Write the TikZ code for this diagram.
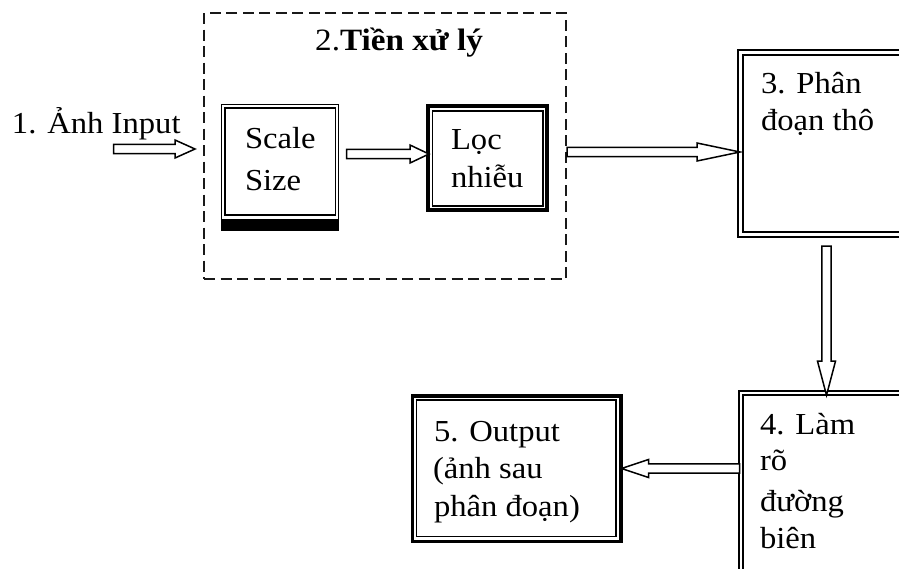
\documentclass[tikz,border=0pt]{standalone}
\usepackage{fontspec}
\setmainfont{Liberation Serif}[FakeStretch=1.07]
\usetikzlibrary{calc}

% hollow block arrow from #1 to the tip #2, head length #3
\newcommand\hollowarrow[3]{%
  \coordinate (ha-h) at ($(#2)!#3!(#1)$);
  \draw[hollow] ($(#1)!4.6pt!90:(#2)$) -- ($(ha-h)!4.6pt!90:(#2)$)
    -- ($(ha-h)!9pt!90:(#2)$) -- (#2) -- ($(ha-h)!9pt!-90:(#2)$)
    -- ($(ha-h)!4.6pt!-90:(#2)$) -- ($(#1)!4.6pt!-90:(#2)$) -- cycle;
}

\tikzset{
  box/.style={rectangle, draw, inner sep=0pt, outer sep=0pt},
  thinframe/.style={line width=1.3pt},
  midframe/.style={line width=2.2pt},
  heavyframe/.style={line width=3.4pt},
  txt/.style={anchor=base west, inner sep=0pt, outer sep=0pt,
    font=\fontsize{30.5}{36}\selectfont},
  hollow/.style={draw, line width=1.5pt, fill=white, line join=miter},
  groupframe/.style={rectangle, draw=black!90, line width=2.4pt,
    dash pattern=on 11pt off 5.5pt, inner sep=0pt}
}

\begin{document}
\begin{tikzpicture}[x=1pt, y=1pt]
\clip (0,0) rectangle (899,-568);
\fill[white] (0,0) rectangle (899,-568);

% pre-processing group
\node[groupframe, minimum width=362pt, minimum height=266pt] (grp) at (385,-146) {};
\node[anchor=base west, inner sep=0pt, font=\fontsize{31}{36}\selectfont] (title) at (315,-50.7) {2.\textbf{Tiền xử lý}};

% Scale Size
\node[box, thinframe, minimum width=116.8pt, minimum height=125.7pt] (sbox) at (280.1,-167.15) {};
\draw[thinframe] ([shift={(3.4,-3.7)}]sbox.north west) rectangle ([shift={(-2.8,15)}]sbox.south east);
\fill ([shift={(-0.7,11)}]sbox.south west) rectangle ([shift={(0.7,-0.8)}]sbox.south east);
\node[txt] (s1) at (245,-148.3) {Scale};
\node[txt] (s2) at (245,-190) {Size};

% noise filter
\node[box, heavyframe, minimum width=119pt, minimum height=104pt] (lbox) at (487.5,-158) {};
\draw[line width=1.5pt] ([shift={(4.5,-5)}]lbox.north west) rectangle ([shift={(-4.2,4.2)}]lbox.south east);
\node[txt] (l1) at (451,-149) {Lọc};
\node[txt] (l2) at (451,-187.3) {nhiễu};

% coarse segmentation
\node[box, midframe, minimum width=222pt, minimum height=187.3pt] (b3) at (849,-143.35) {};
\draw[line width=2pt] ([shift={(4.8,-4.8)}]b3.north west) rectangle ([shift={(-4.8,4.8)}]b3.south east);
\node[txt] (p1) at (761,-93.3) {3. Phân};
\node[txt] (p2) at (761,-130) {đoạn thô};

% edge refinement
\node[box, midframe, minimum width=221.3pt, minimum height=249.3pt] (b4) at (849.35,-515.35) {};
\draw[line width=2pt] ([shift={(4.2,-4)}]b4.north west) rectangle ([shift={(-4.2,4)}]b4.south east);
\node[txt] (r1) at (760,-434) {4. Làm};
\node[txt] (r2) at (760,-470.7) {rõ};
\node[txt] (r3) at (760,-511.7) {đường};
\node[txt] (r4) at (760,-548) {biên};

% output
\node[box, line width=3.3pt, minimum width=208.3pt, minimum height=145.7pt] (b5) at (516.85,-468.85) {};
\draw[line width=1.5pt] ([shift={(4,-4.2)}]b5.north west) rectangle ([shift={(-5,5.4)}]b5.south east);
\node[txt] (o1) at (434,-441) {5. Output};
\node[txt] (o2) at (433,-478) {(ảnh sau};
\node[txt] (o3) at (434,-516.7) {phân đoạn)};

% input label
\node[txt] (inp) at (12,-133.3) {1. Ảnh Input};

% arrow end points
\coordinate (a1s) at (113.5,-149);
\coordinate (a1t) at (195,-149);
\coordinate (a2s) at ([xshift=8pt]sbox.east |- 0,-154);
\coordinate (a2t) at ([xshift=1pt]lbox.west |- 0,-154);
\coordinate (a3s) at (grp.east |- 0,-152);
\coordinate (a3t) at ([xshift=2pt]b3.west |- 0,-152);
\coordinate (a4s) at (826.5,-246);
\coordinate (a4t) at ([yshift=-4.5pt]b4.north -| a4s);
\coordinate (a5s) at ([xshift=1pt]b4.west |- 0,-468.5);
\coordinate (a5t) at ([xshift=0.5pt]b5.east |- 0,-468.5);

\hollowarrow{a1s}{a1t}{20pt}
\hollowarrow{a2s}{a2t}{19pt}
\hollowarrow{a3s}{a3t}{43pt}
\hollowarrow{a4s}{a4t}{34pt}
\hollowarrow{a5s}{a5t}{27pt}
\end{tikzpicture}
\end{document}
